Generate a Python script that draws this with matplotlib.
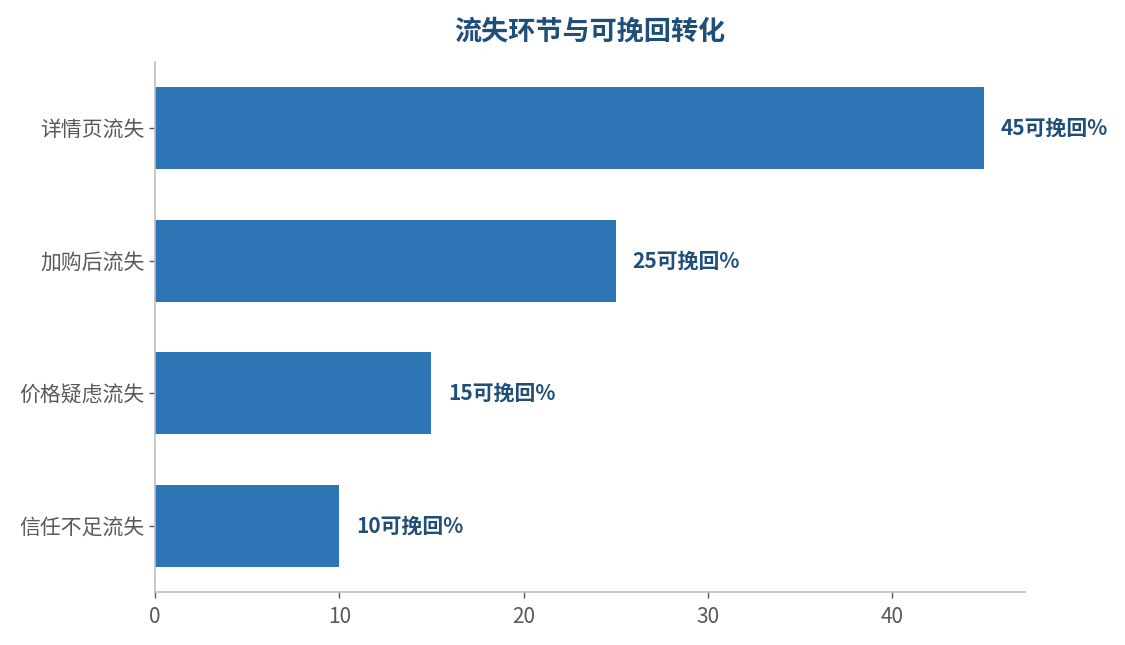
import numpy as np
import matplotlib
matplotlib.use("Agg")
import matplotlib.pyplot as plt

plt.rcParams['font.family'] = ['Noto Sans CJK SC', 'DejaVu Sans']

categories = ['详情页流失', '加购后流失', '价格疑虑流失', '信任不足流失']
values = [45, 25, 15, 10]
xticks = [0, 10, 20, 30, 40]

bar_color = '#2E75B6'
dark_blue = '#1F4E79'
grey = '#595959'
spine_grey = '#BFBFBF'

fig = plt.figure(figsize=(11.25, 6.45), dpi=100)
ax = fig.add_axes([0.1378, 0.0822, 0.7733, 0.8217])

y = np.arange(len(categories))
ax.barh(y, values, height=0.62, color=bar_color)

# value labels to the right of each bar
for yi, v in zip(y, values):
    ax.text(v + 0.9, yi, f'{v}可挽回%', va='center', ha='left',
            fontsize=15, fontweight='bold', color=dark_blue)

ax.set_yticks(y)
ax.set_yticklabels(categories, fontsize=15, color=grey)
ax.set_xticks(xticks)
ax.set_xticklabels([str(t) for t in xticks], fontsize=15, color=grey)
ax.set_ylim(len(categories) - 0.5, -0.5)
ax.set_xlim(0, 47.2)

ax.spines['top'].set_visible(False)
ax.spines['right'].set_visible(False)
for s in ('left', 'bottom'):
    ax.spines[s].set_color(spine_grey)
    ax.spines[s].set_linewidth(1.2)
ax.tick_params(axis='both', colors=grey, length=4, width=1)
ax.tick_params(axis='x', labelcolor=grey, pad=6)

ax.set_title('流失环节与可挽回转化', fontsize=19.5, fontweight='bold',
             color=dark_blue, pad=16)

fig.savefig('out.png', dpi=100)
